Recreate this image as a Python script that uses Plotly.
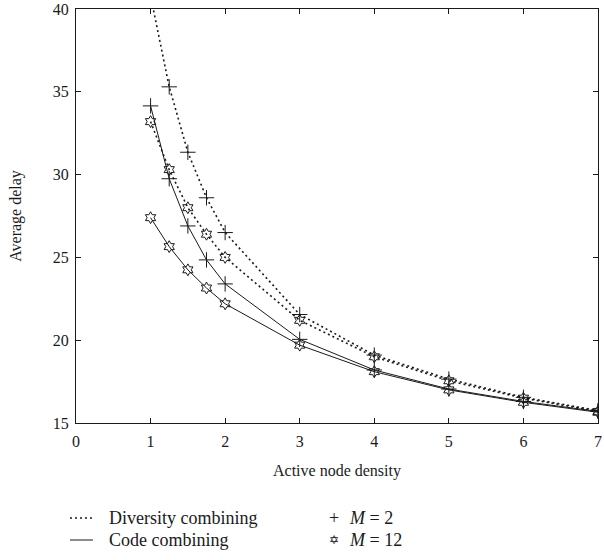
import plotly.graph_objects as go

# Data
density = [1, 1.25, 1.5, 1.75, 2, 3, 4, 5, 6, 7]
diversity_m2 = [40.8, 35.3, 31.35, 28.6, 26.5, 21.55, 19.1, 17.65, 16.55, 15.75]
diversity_m12 = [33.2, 30.3, 28.0, 26.4, 25.0, 21.2, 19.0, 17.55, 16.5, 15.7]
code_m2 = [34.15, 29.75, 26.9, 24.85, 23.4, 20.05, 18.2, 17.05, 16.3, 15.7]
code_m12 = [27.4, 25.65, 24.25, 23.15, 22.2, 19.7, 18.1, 17.0, 16.25, 15.65]

x_ticks = [0, 1, 2, 3, 4, 5, 6, 7]
y_ticks = [15, 20, 25, 30, 35, 40]

legend_lines = ["Diversity combining", "Code combining"]
legend_marks = ["<i>M</i> = 2", "<i>M</i> = 12"]

FONT = "Liberation Serif"
INK = "#1a1a1a"
DOT = "2px,3px"

W, H = 604, 560
ML, MR, MT, MB = 76, 6, 9, 137
PW, PH = W - ML - MR, H - MT - MB

fig = go.Figure()

def add_series(y, dash, symbol, size, lw):
    fig.add_trace(go.Scatter(
        x=density, y=y, mode="lines+markers", showlegend=False,
        line=dict(color=INK, width=lw, dash=dash),
        marker=dict(symbol=symbol, size=size, color=INK,
                    line=dict(color=INK, width=1)),
    ))

add_series(diversity_m2, DOT, "cross-thin", 11, 1.6)
add_series(diversity_m12, DOT, "hexagram-open", 9, 1.6)
add_series(code_m2, "solid", "cross-thin", 11, 1)
add_series(code_m12, "solid", "hexagram-open", 9, 1)

axis_common = dict(
    showgrid=False, zeroline=False, showline=True, linecolor=INK, linewidth=1,
    mirror="ticks", ticks="inside", ticklen=5, tickcolor=INK, tickwidth=1,
    tickfont=dict(family=FONT, size=16, color=INK), automargin=False,
)

# manual legend below the plot (paper coordinates from pixel positions)
def px_x(p):
    return (p - ML) / PW

def px_y(p):
    return (H - MB - p) / PH

shapes = []
annotations = []
rows = [518, 540]
for txt, dash, yy in zip(legend_lines, [DOT, "solid"], rows):
    shapes.append(dict(type="line", xref="paper", yref="paper",
                       x0=px_x(70), x1=px_x(93), y0=px_y(yy), y1=px_y(yy),
                       line=dict(color=INK, width=1.5 if dash == DOT else 1, dash=dash)))
    annotations.append(dict(text=txt, xref="paper", yref="paper", x=px_x(107), y=px_y(yy),
                            xanchor="left", yanchor="middle", showarrow=False,
                            font=dict(family=FONT, size=18, color=INK)))
for txt, sym, yy, fam, sz in zip(legend_marks, ["+", "\u2721"], rows,
                                 [FONT, "DejaVu Sans"], [18, 12]):
    annotations.append(dict(text=sym, xref="paper", yref="paper", x=px_x(334), y=px_y(yy),
                            xanchor="center", yanchor="middle", showarrow=False,
                            font=dict(family=fam, size=sz, color=INK)))
    annotations.append(dict(text=txt, xref="paper", yref="paper", x=px_x(347), y=px_y(yy),
                            xanchor="left", yanchor="middle", showarrow=False,
                            font=dict(family=FONT, size=18, color=INK)))

fig.update_layout(
    width=W, height=H,
    margin=dict(l=ML, r=MR, t=MT, b=MB),
    paper_bgcolor="white", plot_bgcolor="white",
    font=dict(family=FONT, size=16, color=INK),
    showlegend=False,
    xaxis=dict(range=[0, 7], tickvals=x_ticks, ticktext=[str(v) for v in x_ticks],
               ticklabelstandoff=4,
               title=dict(text="Active node density", font=dict(family=FONT, size=16), standoff=15),
               **axis_common),
    yaxis=dict(range=[15, 40], tickvals=y_ticks, ticktext=[str(v) for v in y_ticks],
               ticklabelstandoff=3,
               title=dict(text="Average delay", font=dict(family=FONT, size=16), standoff=27),
               **axis_common),
    shapes=shapes,
    annotations=annotations,
)

fig.write_html("out.html", config={"displayModeBar": False},
               post_script="document.body.style.margin='0';document.body.style.padding='0';")
